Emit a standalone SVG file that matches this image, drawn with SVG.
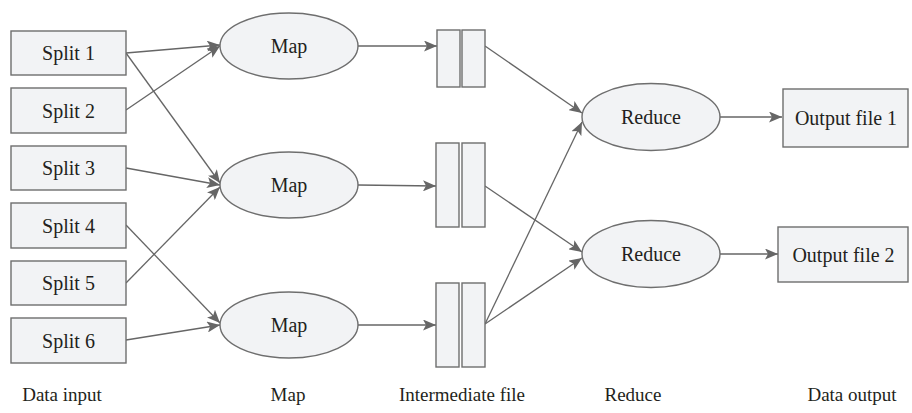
<svg xmlns="http://www.w3.org/2000/svg" width="912" height="413" viewBox="0 0 912 413">
<defs>
<style>
.box{fill:#f2f3f5;stroke:#6e6e6e;stroke-width:1.4}
.t{font-family:"Liberation Serif","Times New Roman",serif;font-size:20px;fill:#231f20;text-anchor:middle;dominant-baseline:central}
.lbl{font-family:"Liberation Serif","Times New Roman",serif;font-size:19px;fill:#231f20;text-anchor:middle}
.c{fill:none;stroke:#666;stroke-width:1.3;marker-end:url(#ah)}
</style>
<marker id="ah" markerWidth="13" markerHeight="11" refX="13" refY="5.5" orient="auto" markerUnits="userSpaceOnUse">
<path d="M0,0 L13,5.5 L0,11 L3,5.5 z" fill="#666"/>
</marker>
</defs>
<rect width="912" height="413" fill="#fff"/>
<g id="connectors">
<line class="c" x1="126" y1="53" x2="220" y2="45"/>
<line class="c" x1="126" y1="53" x2="220" y2="183"/>
<line class="c" x1="126" y1="110" x2="220" y2="46"/>
<line class="c" x1="126" y1="168" x2="220" y2="185"/>
<line class="c" x1="126" y1="283" x2="220" y2="187"/>
<line class="c" x1="126" y1="225" x2="220" y2="323"/>
<line class="c" x1="126" y1="340" x2="220" y2="325"/>
<line class="c" x1="358" y1="46" x2="437" y2="46"/>
<line class="c" x1="358" y1="185" x2="436" y2="186"/>
<line class="c" x1="358" y1="325" x2="436" y2="325"/>
<line class="c" x1="485" y1="46" x2="582" y2="113"/>
<line class="c" x1="485" y1="186" x2="582" y2="252"/>
<line class="c" x1="485" y1="324" x2="582" y2="122"/>
<line class="c" x1="485" y1="324" x2="582" y2="258"/>
<line class="c" x1="720" y1="117" x2="782" y2="117"/>
<line class="c" x1="720" y1="254" x2="778" y2="254"/>
</g>
<g id="split1"><rect class="box" x="11" y="31" width="115" height="44"/><text class="t" x="68.5" y="53">Split 1</text></g>
<g id="split2"><rect class="box" x="11" y="88" width="115" height="45"/><text class="t" x="68.5" y="110.5">Split 2</text></g>
<g id="split3"><rect class="box" x="11" y="146" width="115" height="44"/><text class="t" x="68.5" y="168">Split 3</text></g>
<g id="split4"><rect class="box" x="11" y="203" width="115" height="45"/><text class="t" x="68.5" y="225.5">Split 4</text></g>
<g id="split5"><rect class="box" x="11" y="261" width="115" height="44"/><text class="t" x="68.5" y="283">Split 5</text></g>
<g id="split6"><rect class="box" x="11" y="318" width="115" height="45"/><text class="t" x="68.5" y="340.5">Split 6</text></g>
<g id="map1"><ellipse class="box" cx="289" cy="46" rx="69" ry="33"/><text class="t" x="289" y="46">Map</text></g>
<g id="map2"><ellipse class="box" cx="289" cy="185" rx="69" ry="33"/><text class="t" x="289" y="185">Map</text></g>
<g id="map3"><ellipse class="box" cx="289" cy="325" rx="69" ry="33"/><text class="t" x="289" y="325">Map</text></g>
<g id="inter1"><rect class="box" x="437" y="30" width="23" height="57"/><rect class="box" x="462" y="30" width="23" height="57"/></g>
<g id="inter2"><rect class="box" x="436" y="143" width="23" height="84"/><rect class="box" x="462" y="143" width="23" height="84"/></g>
<g id="inter3"><rect class="box" x="436" y="283" width="23" height="84"/><rect class="box" x="462" y="283" width="23" height="84"/></g>
<g id="reduce1"><ellipse class="box" cx="651" cy="117" rx="69" ry="33.5"/><text class="t" x="651" y="117">Reduce</text></g>
<g id="reduce2"><ellipse class="box" cx="651" cy="254" rx="69" ry="33.5"/><text class="t" x="651" y="254">Reduce</text></g>
<g id="output1"><rect class="box" x="783" y="89" width="125" height="58"/><text class="t" x="846" y="118">Output file 1</text></g>
<g id="output2"><rect class="box" x="778" y="227" width="130" height="55"/><text class="t" x="843.5" y="254.5">Output file 2</text></g>
<g id="labels">
<text class="lbl" x="62" y="401">Data input</text>
<text class="lbl" x="288" y="401">Map</text>
<text class="lbl" x="462" y="401">Intermediate file</text>
<text class="lbl" x="633" y="401">Reduce</text>
<text class="lbl" x="852" y="401">Data output</text>
</g>
</svg>
